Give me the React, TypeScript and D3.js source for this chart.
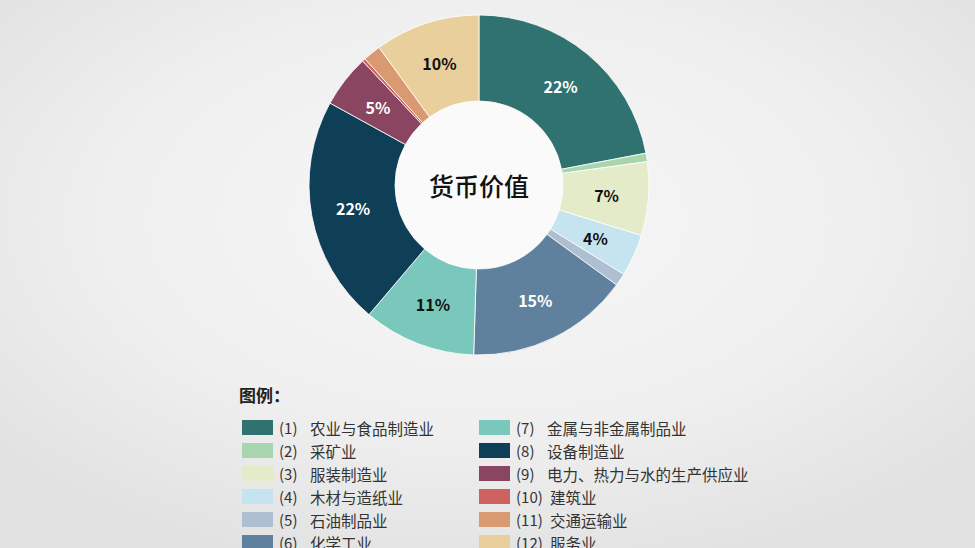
import React from "react";
import * as d3 from "d3";

const categories = [
  "农业与食品制造业",
  "采矿业",
  "服装制造业",
  "木材与造纸业",
  "石油制品业",
  "化学工业",
  "金属与非金属制品业",
  "设备制造业",
  "电力、热力与水的生产供应业",
  "建筑业",
  "交通运输业",
  "服务业",
];
const values = [22, 0.8, 7, 4, 1.2, 15.5, 10.7, 21.8, 5, 0.3, 1.7, 10];
const labels = ["22%", "", "7%", "4%", "", "15%", "11%", "22%", "5%", "", "", "10%"];
const colors = [
  "#2f7270", "#a8d5ad", "#e4ebc8", "#c6e4ef", "#adbfd0", "#60819d",
  "#79c8bb", "#0f3f57", "#8a4560", "#cf6160", "#d99a72", "#e8cf9b",
];
const labelColors = ["#fff", "", "#111", "#111", "", "#fff", "#111", "#fff", "#fff", "", "", "#111"];
const legendNums = ["(1)", "(2)", "(3)", "(4)", "(5)", "(6)", "(7)", "(8)", "(9)", "(10)", "(11)", "(12)"];

const W = 975;
const H = 548;
const cx = 479;
const cy = 185;
const rOuter = 170;
const rInner = 84;
const font = "'Noto Sans CJK SC', 'Noto Sans', sans-serif";

export default function App() {
  const pie = d3.pie<number>().sort(null).value((d) => d)(values);
  const arc = d3.arc<d3.PieArcDatum<number>>().innerRadius(rInner).outerRadius(rOuter);
  const labelArc = d3.arc<d3.PieArcDatum<number>>().innerRadius(128).outerRadius(128);

  return (
    <svg width={W} height={H} style={{ position: "absolute", left: 0, top: 0 }}>
      <defs>
        <radialGradient id="bg" cx="50%" cy="40%" r="65%">
          <stop offset="0%" stopColor="#f7f7f7" />
          <stop offset="60%" stopColor="#efefef" />
          <stop offset="100%" stopColor="#e2e2e2" />
        </radialGradient>
      </defs>
      <rect x={0} y={0} width={W} height={H} fill="url(#bg)" />
      <g transform={`translate(${cx},${cy})`}>
        <circle r={rInner} fill="#fafafa" />
        {pie.map((d, i) => (
          <path key={i} d={arc(d) || ""} fill={colors[i]} stroke="#ffffff" strokeWidth={0.8} />
        ))}
        {pie.map((d, i) => {
          if (!labels[i]) return null;
          const [x, y] = labelArc.centroid(d);
          return (
            <text
              key={"l" + i}
              x={x}
              y={y}
              textAnchor="middle"
              dominantBaseline="central"
              fontFamily={font}
              fontWeight="bold"
              fontSize={16}
              fill={labelColors[i]}
            >
              {labels[i]}
            </text>
          );
        })}
        <text
          x={0}
          y={0}
          textAnchor="middle"
          dominantBaseline="central"
          fontFamily={font}
          fontWeight={500}
          fontSize={25}
          fill="#111"
        >
          货币价值
        </text>
      </g>
      <text x={239} y={402} fontFamily={font} fontWeight="bold" fontSize={17} fill="#222">
        图例：
      </text>
      {categories.map((c, i) => {
        const col = Math.floor(i / 6);
        const row = i % 6;
        const x = col === 0 ? 242 : 479;
        const y = 420 + row * 23;
        return (
          <g key={"g" + i}>
            <rect x={x} y={y} width={31} height={15} fill={colors[i]} />
            <text x={x + 37} y={y + 7.5} dominantBaseline="central" fontFamily={font} fontSize={15} fill="#333">
              {legendNums[i]}
            </text>
            <text
              x={x + (i >= 9 ? 71 : 68)}
              y={y + 7.5}
              dominantBaseline="central"
              fontFamily={font}
              fontSize={15.5}
              fill="#333"
            >
              {c}
            </text>
          </g>
        );
      })}
    </svg>
  );
}
